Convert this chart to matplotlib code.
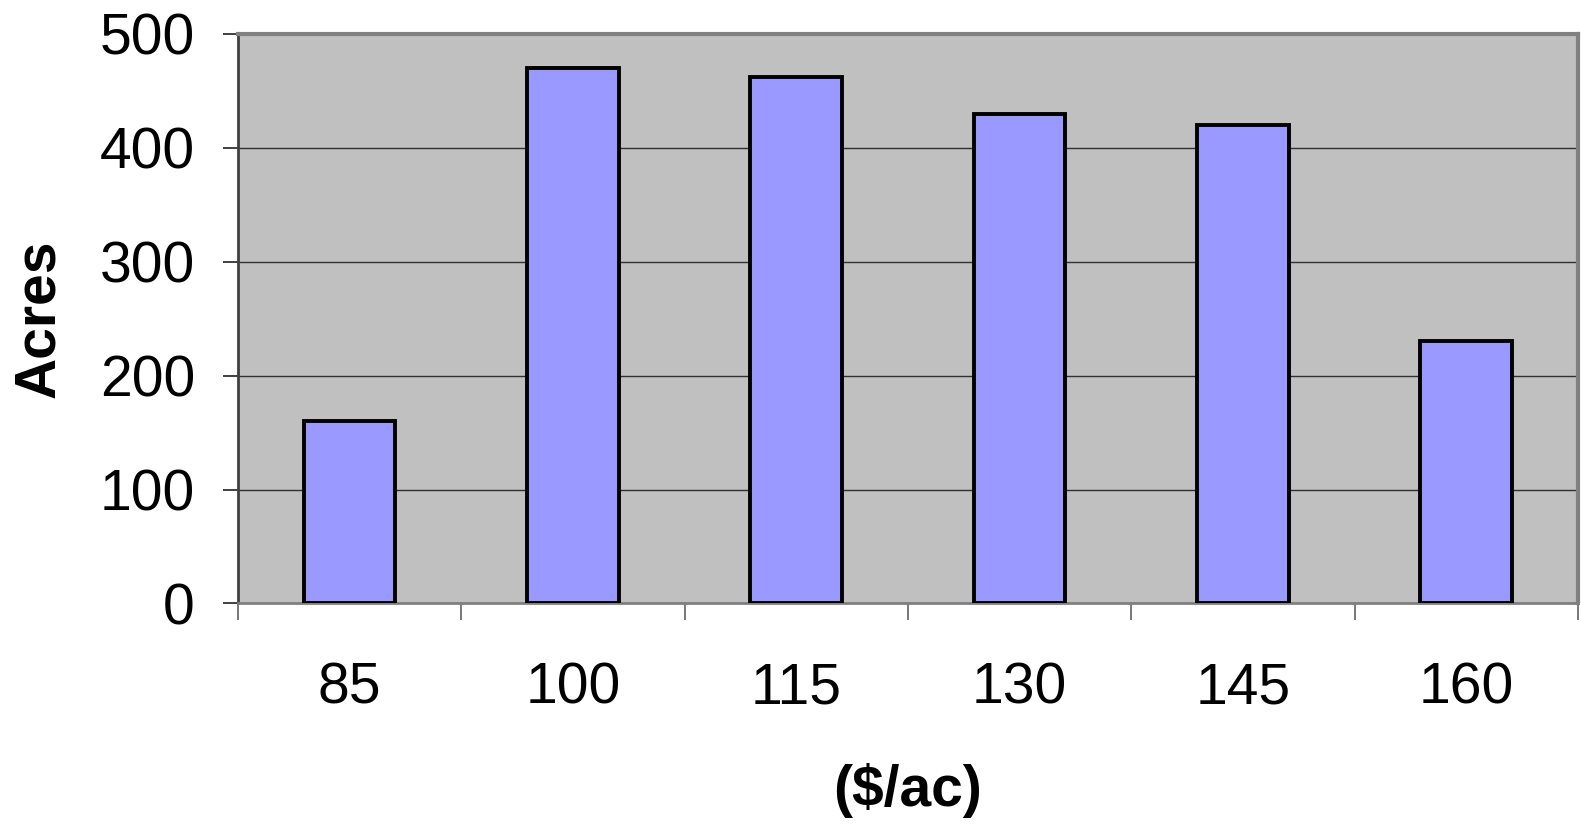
import numpy as np
import matplotlib
matplotlib.use("Agg")
import matplotlib.pyplot as plt
from matplotlib.ticker import FixedLocator

# Acres by rental rate
rates = ["85", "100", "115", "130", "145", "160"]
acres = [160, 470, 462, 430, 420, 230]
y_ticks = [0, 100, 200, 300, 400, 500]

plt.rcParams["font.family"] = ["Liberation Sans", "DejaVu Sans"]

fig = plt.figure(figsize=(15.81, 8.24), dpi=100)
ax = fig.add_axes([0.1505, 0.2676, 0.8475, 0.6914])
ax.set_facecolor("#C0C0C0")

x = np.arange(len(rates))
ax.bar(x, acres, width=0.41, color="#9999FF", edgecolor="black",
       linewidth=2.8, zorder=3)

ax.set_xlim(-0.5, len(rates) - 0.5)
ax.set_ylim(0, 500)

# y axis
ax.set_yticks(y_ticks)
ax.set_yticklabels([str(v) for v in y_ticks], fontsize=41)
ax.tick_params(axis="y", length=11, width=1.2, pad=20, color="#202020")
ax.grid(axis="y", color="#303030", linewidth=1.0, zorder=1)

# x axis: labels at the bar centres, tick marks at category boundaries
ax.set_xticks(x)
ax.set_xticklabels(rates, fontsize=41)
ax.tick_params(axis="x", which="major", length=0, pad=42)
ax.xaxis.set_minor_locator(FixedLocator(np.arange(-0.5, len(rates))))
ax.tick_params(axis="x", which="minor", length=12, width=1.2, color="#606060")

for side in ("top", "right"):
    ax.spines[side].set_color("#808080")
    ax.spines[side].set_linewidth(3)
ax.spines["bottom"].set_color("#808080")
ax.spines["bottom"].set_linewidth(2)
ax.spines["left"].set_color("#404040")
ax.spines["left"].set_linewidth(2)

ax.set_ylabel("Acres", fontsize=41, fontweight="bold", labelpad=24)
ax.set_xlabel("($/ac)", fontsize=41, fontweight="bold", labelpad=34)

fig.savefig("out.png", dpi=100, facecolor="white")
